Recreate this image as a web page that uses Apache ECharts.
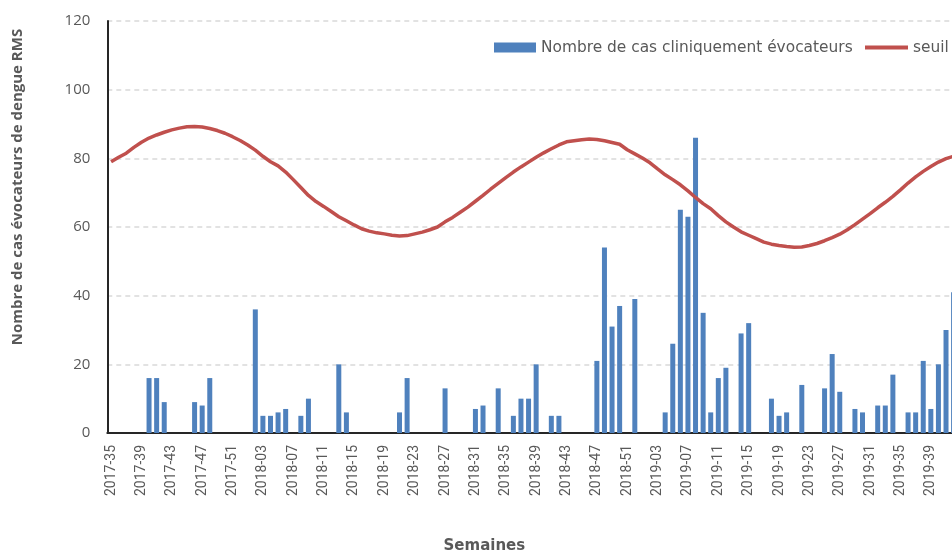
<!DOCTYPE html>
<html>
<head>
<meta charset="utf-8">
<script src="https://cdn.jsdelivr.net/npm/echarts@6/dist/echarts.min.js"></script>
<style>
  html, body { margin: 0; padding: 0; background: #fff; }
  #chart { width: 952px; height: 553px; }
</style>
</head>
<body>
<div id="chart"></div>
<script>
const weeks = [
  '2017-35', '2017-36', '2017-37', '2017-38', '2017-39', '2017-40', '2017-41', '2017-42', '2017-43',
  '2017-44', '2017-45', '2017-46', '2017-47', '2017-48', '2017-49', '2017-50', '2017-51', '2017-52',
  '2018-01', '2018-02', '2018-03', '2018-04', '2018-05', '2018-06', '2018-07', '2018-08', '2018-09',
  '2018-10', '2018-11', '2018-12', '2018-13', '2018-14', '2018-15', '2018-16', '2018-17', '2018-18',
  '2018-19', '2018-20', '2018-21', '2018-22', '2018-23', '2018-24', '2018-25', '2018-26', '2018-27',
  '2018-28', '2018-29', '2018-30', '2018-31', '2018-32', '2018-33', '2018-34', '2018-35', '2018-36',
  '2018-37', '2018-38', '2018-39', '2018-40', '2018-41', '2018-42', '2018-43', '2018-44', '2018-45',
  '2018-46', '2018-47', '2018-48', '2018-49', '2018-50', '2018-51', '2018-52',
  '2019-01', '2019-02', '2019-03', '2019-04', '2019-05', '2019-06', '2019-07', '2019-08', '2019-09',
  '2019-10', '2019-11', '2019-12', '2019-13', '2019-14', '2019-15', '2019-16', '2019-17', '2019-18',
  '2019-19', '2019-20', '2019-21', '2019-22', '2019-23', '2019-24', '2019-25', '2019-26', '2019-27',
  '2019-28', '2019-29', '2019-30', '2019-31', '2019-32', '2019-33', '2019-34', '2019-35', '2019-36',
  '2019-37', '2019-38', '2019-39', '2019-40', '2019-41', '2019-42'
];

// weekly counts, one row per year segment
const cases2017 = [0, 0, 0, 0, 0, 16, 16, 9, 0, 0, 0, 9, 8, 16, 0, 0, 0, 0];
const cases2018 = [
  0, 36, 5, 5, 6, 7, 0, 5, 10, 0, 0, 0, 20, 6, 0, 0, 0, 0, 0, 0, 6, 16, 0, 0, 0, 0,
  13, 0, 0, 0, 7, 8, 0, 13, 0, 5, 10, 10, 20, 0, 5, 5, 0, 0, 0, 0, 21, 54, 31, 37, 0, 39
];
const cases2019 = [
  0, 0, 0, 6, 26, 65, 63, 86, 35, 6, 16, 19, 0, 29, 32, 0, 0, 10, 5, 6, 0,
  14, 0, 0, 13, 23, 12, 0, 7, 6, 0, 8, 8, 17, 0, 6, 6, 21, 7, 20, 30, 41
];

const seuil2017 = [79, 80.3, 81.5, 83.2, 84.7, 85.9, 86.8, 87.6, 88.3, 88.8, 89.2, 89.3, 89.1, 88.7, 88.1, 87.3, 86.3, 85.2];
const seuil2018 = [
  83.9, 82.4, 80.6, 79, 77.8, 76, 73.8, 71.5, 69.2, 67.4, 66, 64.5, 63, 61.8, 60.6, 59.5, 58.8, 58.3,
  58, 57.6, 57.4, 57.5, 58, 58.5, 59.2, 60, 61.5, 62.8, 64.3, 65.8, 67.5, 69.2, 71, 72.7, 74.4, 76,
  77.5, 78.9, 80.3, 81.6, 82.8, 83.9, 84.8, 85.1, 85.4, 85.6, 85.5, 85.1, 84.6, 84.1, 82.5, 81.3
];
const seuil2019 = [
  80.1, 78.7, 76.9, 75.2, 73.8, 72.3, 70.5, 68.6, 66.8, 65.3, 63.3, 61.5, 60, 58.6, 57.6, 56.6, 55.6,
  55, 54.6, 54.3, 54.1, 54.2, 54.6, 55.2, 56, 56.9, 57.9, 59.2, 60.7, 62.3, 63.9, 65.6, 67.2, 68.9,
  70.8, 72.8, 74.6, 76.2, 77.6, 78.9, 79.9, 80.6
];

const cases = [...cases2017, ...cases2018, ...cases2019];
const seuil = [...seuil2017, ...seuil2018, ...seuil2019];
const yTicks = [0, 20, 40, 60, 80, 100, 120];

const chart = echarts.init(document.getElementById('chart'), null, { renderer: 'canvas' });
const grey = '#595959';
const legendText = { color: grey, fontSize: 15.4, fontFamily: 'DejaVu Sans' };

chart.setOption({
  animation: false,
  backgroundColor: '#ffffff',
  textStyle: { fontFamily: 'Open Sans, sans-serif', color: grey },
  legend: [
    {
      left: 494,
      top: 40,
      padding: 0,
      itemWidth: 42,
      itemHeight: 10,
      textStyle: legendText,
      data: [{ name: 'Nombre de cas cliniquement évocateurs', icon: 'rect' }]
    },
    {
      left: 865,
      top: 40,
      padding: 0,
      itemWidth: 43,
      itemHeight: 4,
      textStyle: legendText,
      data: [{ name: 'seuil', icon: 'rect' }]
    }
  ],
  graphic: [
    {
      type: 'text',
      x: 18,
      y: 187,
      rotation: Math.PI / 2,
      style: {
        text: 'Nombre de cas évocateurs de dengue RMS',
        fill: grey,
        font: 'bold 15px "Open Sans", sans-serif',
        align: 'center',
        verticalAlign: 'middle'
      }
    }
  ],
  grid: { left: 107.3, right: -5.4, top: 21, bottom: 120, outerBoundsMode: 'none' },
  xAxis: {
    type: 'category',
    data: weeks,
    boundaryGap: true,
    name: 'Semaines',
    nameLocation: 'middle',
    nameGap: 106,
    nameTextStyle: { color: grey, fontWeight: 'bold', fontSize: 15, fontFamily: 'DejaVu Sans', padding: [0, 96, 0, 0] },
    axisLine: { lineStyle: { color: '#262626', width: 2 } },
    axisTick: { show: false },
    axisLabel: {
      interval: 3,
      rotate: 90,
      margin: 12,
      color: grey,
      fontSize: 14,
      fontFamily: 'Roboto'
    }
  },
  yAxis: {
    type: 'value',
    min: yTicks[0],
    max: yTicks[yTicks.length - 1],
    interval: 20,
    axisLine: { show: true, lineStyle: { color: '#262626', width: 2 } },
    axisTick: { show: false },
    axisLabel: { margin: 17, color: grey, fontSize: 15 },
    splitLine: { lineStyle: { color: '#d9d9d9', type: [5, 4], width: 1.5 } }
  },
  series: [
    {
      name: 'Nombre de cas cliniquement évocateurs',
      type: 'bar',
      data: cases,
      barWidth: 5,
      itemStyle: { color: '#4f81bd' }
    },
    {
      name: 'seuil',
      type: 'line',
      data: seuil,
      symbol: 'none',
      lineStyle: { color: '#c0504d', width: 3.5 },
      itemStyle: { color: '#c0504d' },
      z: 3
    }
  ]
});
</script>
</body>
</html>
